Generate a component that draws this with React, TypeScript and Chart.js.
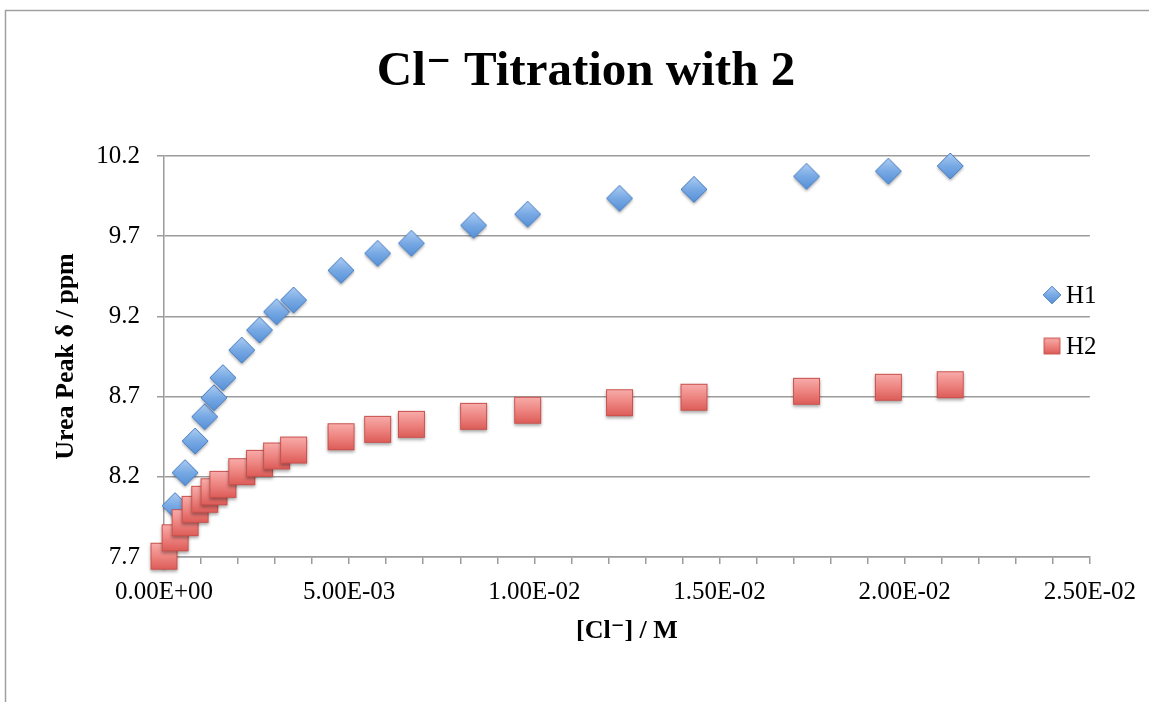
import { useEffect, useRef } from 'react';
import { Chart, registerables } from 'chart.js';

Chart.register(...registerables);

// ---- data ----
const CONC = [
  0, 0.0003, 0.00057, 0.00084, 0.0011, 0.00135, 0.00159, 0.0021, 0.00258, 0.00304,
  0.0035, 0.00478, 0.00577, 0.00668, 0.00836, 0.00982, 0.0123, 0.01431, 0.01735,
  0.01956, 0.02123,
];
const H1_SHIFT = [
  7.71, 8.02, 8.226, 8.423, 8.575, 8.693, 8.818, 8.99, 9.115, 9.229, 9.302, 9.487,
  9.593, 9.656, 9.768, 9.837, 9.936, 9.992, 10.073, 10.105, 10.138,
];
const H2_SHIFT = [
  7.705, 7.82, 7.914, 7.997, 8.06, 8.107, 8.153, 8.232, 8.284, 8.33, 8.367, 8.45,
  8.496, 8.527, 8.577, 8.615, 8.662, 8.696, 8.733, 8.758, 8.774,
];
const SERIES_NAMES = ['H1', 'H2'];
const Y_MIN = 7.7;
const Y_MAX = 10.2;
const Y_STEP = 0.5;
const X_MIN = 0;
const X_MAX = 0.025;
const X_MINOR_STEP = 0.001;
const X_LABEL_EVERY = 5; // label every 5 minor steps
const TITLE = 'Cl\u207B Titration with 2';
const X_TITLE = '[Cl\u207B] / M';
const Y_TITLE = 'Urea Peak \u03B4 / ppm';

const FONT = '"Liberation Serif", "DejaVu Serif", serif';
const GRID = '#9c9c9c';

function sci(v: number): string {
  if (Math.abs(v) < 1e-12) return '0.00E+00';
  const e = Math.floor(Math.log10(Math.abs(v)) + 1e-9);
  const m = v / Math.pow(10, e);
  return m.toFixed(2) + 'E' + (e < 0 ? '-' : '+') + String(Math.abs(e)).padStart(2, '0');
}

function makeDiamond(r: number, shadow: boolean): HTMLCanvasElement {
  const pad = 5;
  const S = Math.ceil(2 * r + 2 * pad);
  const c = document.createElement('canvas');
  c.width = S;
  c.height = S;
  const ctx = c.getContext('2d')!;
  const cx = S / 2;
  const cy = S / 2;
  const path = () => {
    ctx.beginPath();
    ctx.moveTo(cx, cy - r);
    ctx.lineTo(cx + r, cy);
    ctx.lineTo(cx, cy + r);
    ctx.lineTo(cx - r, cy);
    ctx.closePath();
  };
  const g = ctx.createLinearGradient(0, cy - r, 0, cy + r);
  g.addColorStop(0, '#acccf2');
  g.addColorStop(0.5, '#78a9e4');
  g.addColorStop(1, '#5690d8');
  ctx.save();
  if (shadow) {
    ctx.shadowColor = 'rgba(0,0,0,0.35)';
    ctx.shadowBlur = 3;
    ctx.shadowOffsetY = 2;
  }
  path();
  ctx.fillStyle = g;
  ctx.fill();
  ctx.restore();
  path();
  ctx.lineWidth = 1;
  ctx.strokeStyle = '#467dc3';
  ctx.stroke();
  return c;
}

function makeSquare(h: number, shadow: boolean): HTMLCanvasElement {
  const pad = 5;
  const S = Math.ceil(2 * h + 2 * pad);
  const c = document.createElement('canvas');
  c.width = S;
  c.height = S;
  const ctx = c.getContext('2d')!;
  const cx = S / 2;
  const cy = S / 2;
  const g = ctx.createLinearGradient(0, cy - h, 0, cy + h);
  g.addColorStop(0, '#f8aeac');
  g.addColorStop(0.5, '#ee8581');
  g.addColorStop(1, '#dc5b57');
  ctx.save();
  if (shadow) {
    ctx.shadowColor = 'rgba(0,0,0,0.35)';
    ctx.shadowBlur = 3;
    ctx.shadowOffsetY = 2;
  }
  ctx.fillStyle = g;
  ctx.fillRect(cx - h, cy - h, 2 * h, 2 * h);
  ctx.restore();
  ctx.lineWidth = 1;
  ctx.strokeStyle = '#c9504c';
  ctx.strokeRect(cx - h + 0.5, cy - h + 0.5, 2 * h - 1, 2 * h - 1);
  return c;
}

export default function App() {
  const ref = useRef<HTMLCanvasElement>(null);

  useEffect(() => {
    document.body.style.margin = '0';
    const canvas = ref.current;
    if (!canvas) return;

    const bigMarkers = [makeDiamond(13, true), makeSquare(13.5, true)];
    const smallMarkers = [makeDiamond(8.8, false), makeSquare(8.3, false)];

    const decor = {
      id: 'decor',
      beforeDraw(chart: any) {
        const ctx = chart.ctx;
        ctx.save();
        ctx.fillStyle = '#ffffff';
        ctx.fillRect(0, 0, chart.width, chart.height);
        ctx.strokeStyle = '#a0a0a0';
        ctx.lineWidth = 1.5;
        ctx.beginPath();
        ctx.moveTo(5.5, chart.height + 2);
        ctx.lineTo(5.5, 10.5);
        ctx.lineTo(chart.width + 2, 10.5);
        ctx.stroke();
        ctx.restore();
      },
      afterDraw(chart: any) {
        const ctx = chart.ctx;
        ctx.save();
        // title
        ctx.fillStyle = '#000';
        ctx.font = 'bold 49px ' + FONT;
        ctx.textAlign = 'center';
        ctx.textBaseline = 'alphabetic';
        ctx.fillText(TITLE, 586, 84.5);
        // legend
        ctx.font = '25px ' + FONT;
        ctx.textAlign = 'left';
        ctx.textBaseline = 'middle';
        const ys = [295, 346];
        chart.data.datasets.forEach((ds: any, i: number) => {
          const m = smallMarkers[i];
          ctx.drawImage(m, 1052 - m.width / 2, ys[i] - m.height / 2);
          ctx.fillText(ds.label, 1066, ys[i] + 1);
        });
        ctx.restore();
      },
    };

    const chart = new Chart(canvas, {
      type: 'scatter',
      data: {
        datasets: [
          {
            label: SERIES_NAMES[0],
            data: CONC.map((x, i) => ({ x, y: H1_SHIFT[i] })),
            pointStyle: bigMarkers[0] as any,
            pointRadius: 13,
            clip: false as any,
            order: 1,
          },
          {
            label: SERIES_NAMES[1],
            data: CONC.map((x, i) => ({ x, y: H2_SHIFT[i] })),
            pointStyle: bigMarkers[1] as any,
            pointRadius: 13,
            clip: false as any,
            order: 0,
          },
        ],
      },
      options: {
        animation: false,
        responsive: true,
        maintainAspectRatio: false,
        events: [],
        layout: { padding: { left: 23, right: 59, top: 156, bottom: 0 } },
        plugins: {
          legend: { display: false },
          title: { display: false },
          tooltip: { enabled: false },
        },
        scales: {
          x: {
            type: 'linear',
            min: X_MIN,
            max: X_MAX,
            afterFit: (s: any) => {
              s.height = 145;
            },
            grid: {
              drawOnChartArea: false,
              drawTicks: true,
              tickLength: 7,
              color: GRID,
              lineWidth: 1.5,
            },
            border: { color: GRID, width: 1.5 },
            ticks: {
              stepSize: X_MINOR_STEP,
              autoSkip: false,
              maxRotation: 0,
              minRotation: 0,
              padding: 13,
              color: '#000',
              font: { family: FONT, size: 25 },
              callback: (v: any) => {
                const k = Math.round(Number(v) / X_MINOR_STEP);
                return k % X_LABEL_EVERY === 0 ? sci(k * X_MINOR_STEP) : '';
              },
            },
            title: {
              display: true,
              text: X_TITLE,
              color: '#000',
              font: { family: FONT, size: 26, weight: 'bold' },
              padding: { top: 0, bottom: 55 },
            },
          },
          y: {
            type: 'linear',
            min: Y_MIN,
            max: Y_MAX,
            afterFit: (s: any) => {
              s.width = 141;
            },
            grid: {
              drawOnChartArea: true,
              drawTicks: true,
              tickLength: 7,
              color: GRID,
              lineWidth: 1.5,
            },
            border: { color: GRID, width: 1.5 },
            ticks: {
              stepSize: Y_STEP,
              padding: 17,
              color: '#000',
              font: { family: FONT, size: 25 },
              callback: (v: any) => Number(v).toFixed(1),
            },
            title: {
              display: true,
              text: Y_TITLE,
              color: '#000',
              font: { family: FONT, size: 26, weight: 'bold' },
              padding: { top: 28, bottom: 0 },
            },
          },
        },
      } as any,
      plugins: [decor],
    });

    return () => chart.destroy();
  }, []);

  return (
    <div style={{ width: 1149, height: 702, position: 'relative', background: '#fff' }}>
      <canvas ref={ref} />
    </div>
  );
}
